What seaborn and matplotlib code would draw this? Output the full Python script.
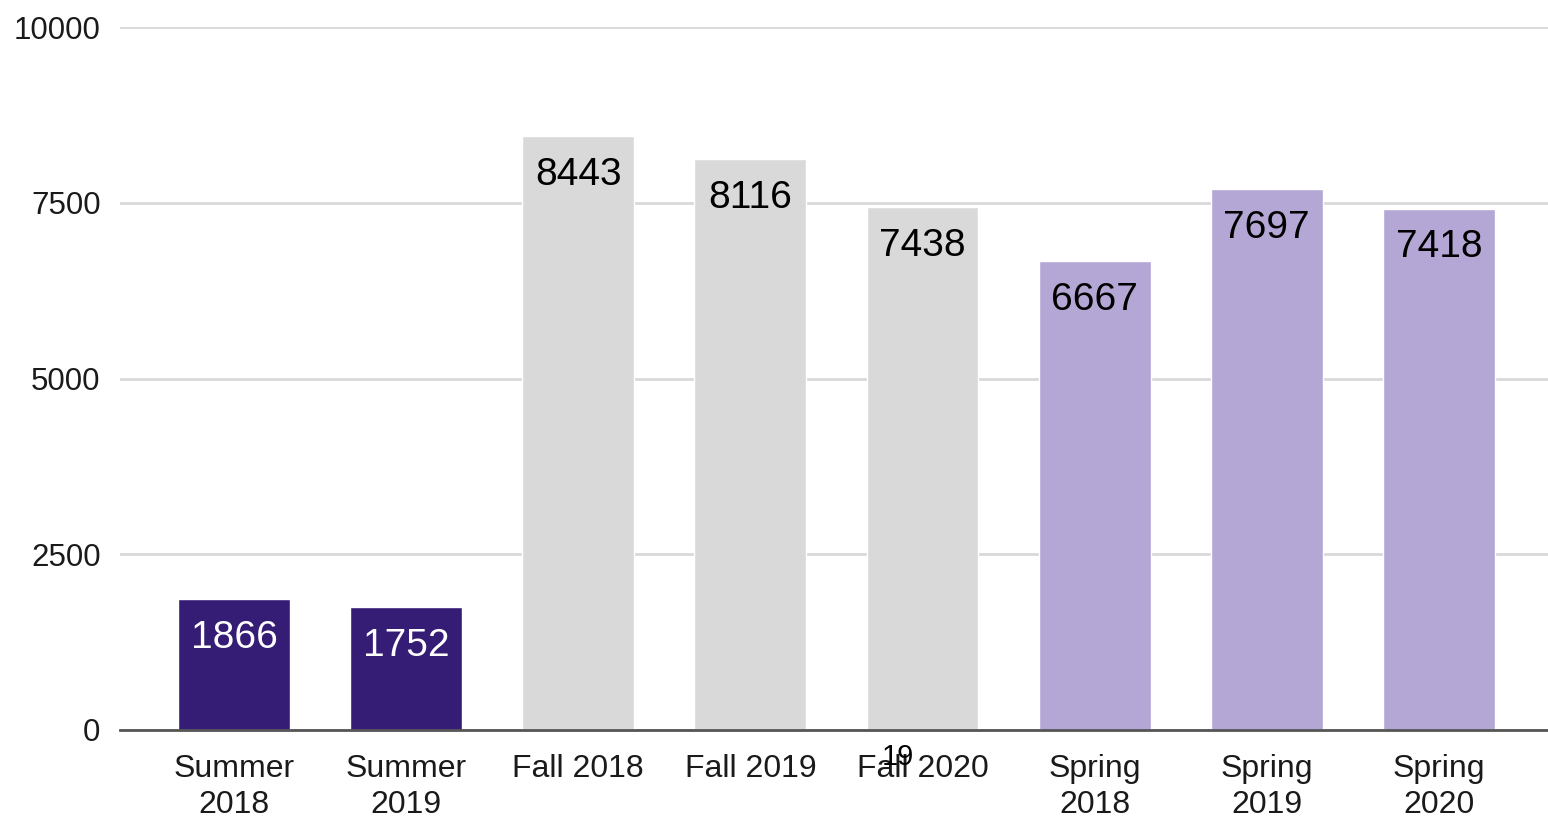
import matplotlib
matplotlib.use("Agg")
import matplotlib.pyplot as plt
import seaborn as sns

# chart data
terms = ["Summer\n2018", "Summer\n2019", "Fall 2018", "Fall 2019", "Fall 2020",
         "Spring\n2018", "Spring\n2019", "Spring\n2020"]
counts = [1866, 1752, 8443, 8116, 7438, 6667, 7697, 7418]
bar_colors = ["#351c75", "#351c75", "#d9d9d9", "#d9d9d9", "#d9d9d9",
              "#b4a7d6", "#b4a7d6", "#b4a7d6"]
label_colors = ["white", "white", "black", "black", "black", "black", "black", "black"]
yticks = [0, 2500, 5000, 7500, 10000]

sns.set_style("white")
plt.rcParams["font.family"] = ["Liberation Sans", "DejaVu Sans"]

fig = plt.figure(figsize=(15.48, 8.19), dpi=100)
ax = fig.add_axes([0.0775, 0.1087, 0.9225, 0.8583])

sns.barplot(x=terms, y=counts, hue=terms, palette=bar_colors, legend=False,
            width=0.65, saturation=1, ax=ax)

for i, (v, c) in enumerate(zip(counts, label_colors)):
    ax.annotate(str(v), (i, v), xytext=(0, -28), textcoords="offset points",
                ha="center", va="center", fontsize=28, color=c)

ax.set_ylim(0, 10000)
ax.set_xlim(-0.663, 7.634)
ax.set_yticks(yticks)
ax.set_yticklabels([str(t) for t in yticks])
ax.yaxis.grid(True, color="#d9d9d9", linewidth=2)
ax.set_axisbelow(True)
for s in ["top", "right", "left"]:
    ax.spines[s].set_visible(False)
ax.spines["bottom"].set_color("#555555")
ax.spines["bottom"].set_linewidth(2)
ax.tick_params(axis="y", length=0, pad=14, labelsize=22.5, labelcolor="#1a1a1a")
ax.tick_params(axis="x", length=0, pad=17, labelsize=23, labelcolor="#1a1a1a")
for lbl in ax.get_xticklabels():
    lbl.set_linespacing(1.3)
ax.set_xlabel("")
ax.set_ylabel("")

fig.text(898 / 1548, 1 - 757 / 819, "19", ha="center", va="center", fontsize=21,
         color="black", family=["Liberation Sans Narrow", "Liberation Sans"], zorder=10)

fig.savefig("out.png", dpi=100)
